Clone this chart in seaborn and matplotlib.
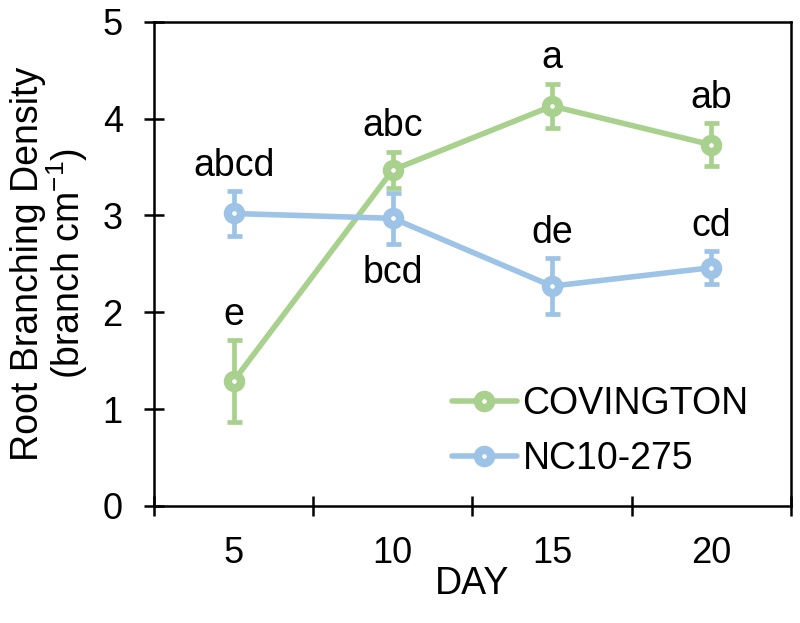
import pandas as pd
import matplotlib
matplotlib.use("Agg")
import matplotlib.pyplot as plt
import seaborn as sns

# data
days = [5, 10, 15, 20]
cov_mean = [1.29, 3.47, 4.13, 3.73]
cov_err = [0.42, 0.19, 0.23, 0.22]
nc_mean = [3.02, 2.97, 2.27, 2.46]
nc_err = [0.23, 0.26, 0.29, 0.17]
cov_letters = ["e", "abc", "a", "ab"]
nc_letters = ["abcd", "bcd", "de", "cd"]

green = "#A9D18E"
blue = "#9DC3E6"

sns.set_style("white")
plt.rcParams["font.family"] = ["Liberation Sans", "DejaVu Sans"]
plt.rcParams["text.color"] = "black"
plt.rcParams["axes.labelcolor"] = "black"
plt.rcParams["xtick.color"] = "black"
plt.rcParams["ytick.color"] = "black"

pos = list(range(len(days)))
df = pd.DataFrame({
    "pos": pos + pos,
    "mean": cov_mean + nc_mean,
    "err": cov_err + nc_err,
    "line": ["COVINGTON"] * 4 + ["NC10-275"] * 4,
})

fig = plt.figure(figsize=(8, 6.23), dpi=100)
ax = fig.add_axes([0.1925, 0.188, 0.796, 0.777])

# error bars
for name, col in [("COVINGTON", green), ("NC10-275", blue)]:
    sub = df[df["line"] == name]
    ax.errorbar(sub["pos"], sub["mean"], yerr=sub["err"], fmt="none",
                ecolor=col, elinewidth=3.4, capsize=5.4, capthick=3.4, zorder=2)
n_before = len(ax.lines)

sns.lineplot(data=df, x="pos", y="mean", hue="line",
             palette={"COVINGTON": green, "NC10-275": blue},
             marker="o", linewidth=4, ax=ax, zorder=3)
for ln in ax.lines[n_before:]:
    ln.set_markersize(9.5)
    ln.set_markeredgewidth(6)
    ln.set_markerfacecolor("white")
    ln.set_markeredgecolor(ln.get_color())

# significance letters
for i in pos:
    ax.annotate(cov_letters[i], (i, cov_mean[i] + cov_err[i]), xytext=(0, 11),
                textcoords="offset points", ha="center", va="baseline", fontsize=27)
for i in pos:
    if nc_letters[i] == "bcd":
        ax.annotate(nc_letters[i], (i, nc_mean[i] - nc_err[i]), xytext=(0, -8),
                    textcoords="offset points", ha="center", va="top", fontsize=27)
    else:
        ax.annotate(nc_letters[i], (i, nc_mean[i] + nc_err[i]), xytext=(0, 11),
                    textcoords="offset points", ha="center", va="baseline", fontsize=27)

ax.set_xlim(-0.5, 3.5)
ax.set_ylim(0, 5)
ax.set_xticks([p - 0.5 for p in pos] + [3.5])
ax.set_xticklabels([])
ax.set_xticks(pos, minor=True)
ax.set_xticklabels([str(d) for d in days], minor=True, fontsize=26)
ax.set_yticks(range(6))
ax.set_yticklabels([str(v) for v in range(6)], fontsize=26)
ax.tick_params(axis="both", which="major", direction="inout", length=15,
               width=1.8, color="black", bottom=True, left=True)
ax.tick_params(axis="x", which="minor", length=0, pad=22, bottom=True)
ax.tick_params(axis="y", pad=15)

for sp in ax.spines.values():
    sp.set_visible(True)
    sp.set_color("black")
    sp.set_linewidth(1.8)

ax.set_xlabel("DAY", fontsize=27)
ax.xaxis.set_label_coords(0.5, -0.125)
ax.xaxis.label.set_va("top")
ax.set_ylabel("Root Branching Density\n(branch cm$^{\\mathregular{-1}}$)", fontsize=27,
              linespacing=0.95)
ax.yaxis.label.set_va("center")
ax.yaxis.set_label_coords(-0.163, 0.5)

ax.legend(loc="lower left", frameon=False, fontsize=27, title=None,
          handlelength=1.73, handletextpad=0.15, labelspacing=0.5,
          borderpad=0, borderaxespad=0, bbox_to_anchor=(0.468, 0.06))

fig.savefig("out.png", dpi=100)
